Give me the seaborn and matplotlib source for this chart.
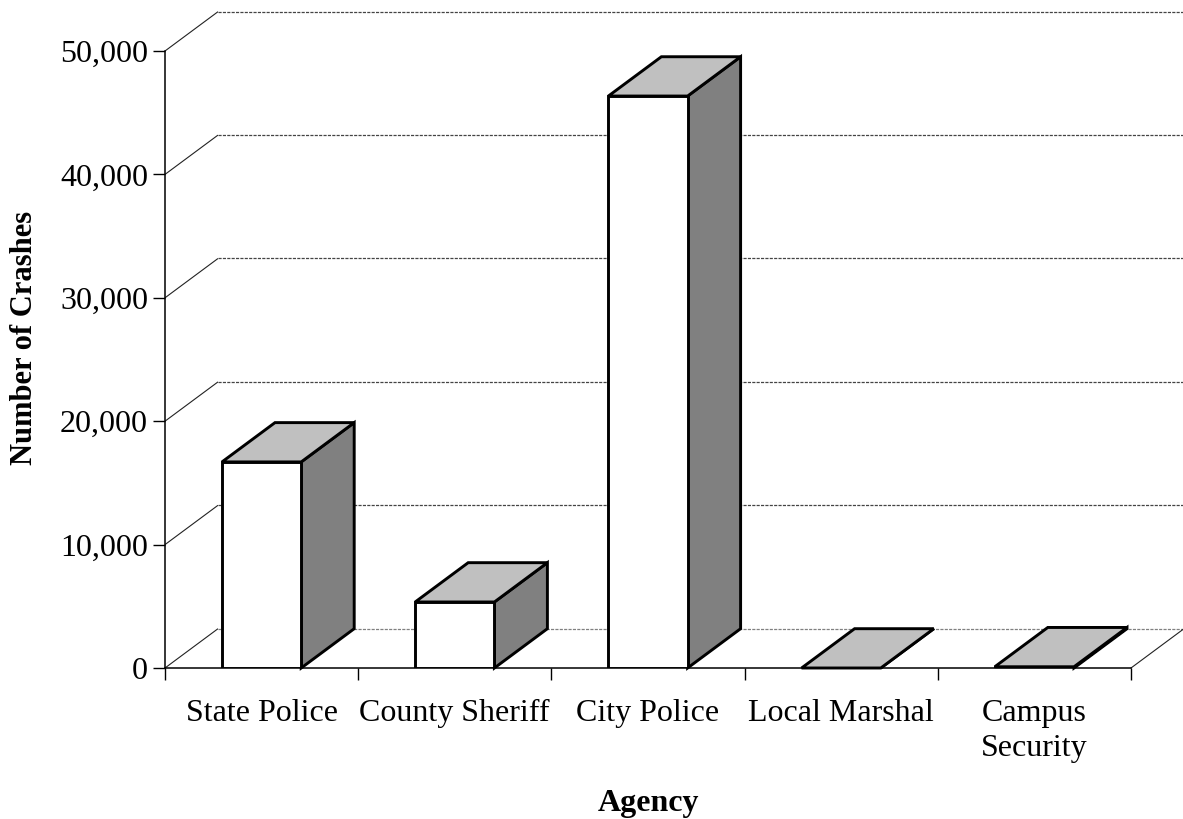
import matplotlib
matplotlib.use("Agg")
import numpy as np
import pandas as pd
import matplotlib.pyplot as plt
import seaborn as sns
from matplotlib.patches import Polygon
from matplotlib.ticker import FixedLocator, FuncFormatter

# ---- data ----
agencies = ["State Police", "County Sheriff", "City Police", "Local Marshal", "Campus\nSecurity"]
crashes = [16700, 5350, 46350, 0, 100]
y_ticks = [0, 10000, 20000, 30000, 40000, 50000]

# ---- style ----
sns.set_theme(style="white", rc={
    "text.color": "black", "axes.labelcolor": "black",
    "xtick.color": "black", "ytick.color": "black",
    "axes.edgecolor": "black",
})
plt.rcParams['font.family'] = ['Liberation Serif', 'DejaVu Serif']

FRONT = "white"
TOP = "#C0C0C0"
SIDE = "#808080"
EDGE_LW = 2.1
FS = 23
# 3-D depth (in category units and data units)
DX = 0.2743
DY = 3185

W, H = 1183, 819
fig = plt.figure(figsize=(W / 100, H / 100), dpi=100)
ax = fig.add_axes([165 / W, 151 / H, 966 / W, 617 / H])

df = pd.DataFrame({"Agency": agencies, "Crashes": crashes})
sns.barplot(data=df, x="Agency", y="Crashes", color=FRONT, saturation=1,
            edgecolor="black", linewidth=EDGE_LW, width=0.41, ax=ax, zorder=6)

n = len(agencies)
ax.set_xlim(-0.5, n - 0.5)
ax.set_ylim(0, 50000)

# back wall gridlines + left diagonals
for v in y_ticks:
    ax.plot([-0.5, -0.5 + DX], [v, v + DY], color="#222222", lw=0.8,
            clip_on=False, zorder=1, solid_capstyle="butt")
    ax.plot([-0.5 + DX, n - 0.5 + DX], [v + DY, v + DY],
            color="#444444" if v else "#808080", lw=0.9, ls=(0, (2.5, 1)),
            clip_on=False, zorder=1)
# right floor diagonal
ax.plot([n - 0.5, n - 0.5 + DX], [0, DY], color="#222222", lw=0.8,
        clip_on=False, zorder=1)

# 3-D faces of the bars, derived from the seaborn bar patches
for p in list(ax.patches):
    x0, w, h = p.get_x(), p.get_width(), p.get_height()
    side = Polygon([(x0 + w, 0), (x0 + w, h), (x0 + w + DX, h + DY), (x0 + w + DX, DY)],
                   closed=True, facecolor=SIDE, edgecolor="black", lw=EDGE_LW,
                   zorder=4, clip_on=False, joinstyle="miter")
    top = Polygon([(x0, h), (x0 + w, h), (x0 + w + DX, h + DY), (x0 + DX, h + DY)],
                  closed=True, facecolor=TOP, edgecolor="black", lw=EDGE_LW,
                  zorder=5, clip_on=False, joinstyle="miter")
    ax.add_patch(side)
    ax.add_patch(top)

# axes / ticks
for s in ["top", "right"]:
    ax.spines[s].set_visible(False)
for s in ["left", "bottom"]:
    ax.spines[s].set_linewidth(1.1)
    ax.spines[s].set_color("black")

ax.set_yticks(y_ticks)
ax.yaxis.set_major_formatter(FuncFormatter(lambda v, _: f"{v:,.0f}"))
ax.tick_params(axis="y", left=True, length=8.6, width=1.0, direction="out",
               pad=3.6, labelsize=FS)
ax.xaxis.set_minor_locator(FixedLocator(np.arange(-0.5, n, 1.0)))
ax.tick_params(axis="x", which="major", bottom=True, length=0, pad=22.5, labelsize=FS)
ax.tick_params(axis="x", which="minor", bottom=True, length=8.6, width=1.0, direction="out")
for lab in ax.get_xticklabels():
    lab.set_multialignment("center")
    lab.set_linespacing(1.25)

ax.set_xlabel("Agency", fontsize=FS, fontweight="bold")
ax.set_ylabel("Number of Crashes", fontsize=22, fontweight="bold")
ax.xaxis.set_label_coords(0.5, (668 - 789) / 617)
ax.yaxis.set_label_coords((39 - 165) / 966, (668 - 338) / 617)
ax.grid(False)

fig.savefig("out.png", dpi=100)
